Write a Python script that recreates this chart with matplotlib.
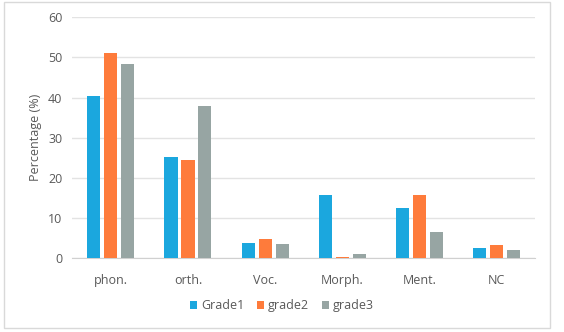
import numpy as np
import matplotlib
matplotlib.use("Agg")
import matplotlib.pyplot as plt
from matplotlib.patches import Rectangle

plt.rcParams['font.family'] = ['Open Sans', 'DejaVu Sans']

#### data
categories = ["phon.", "orth.", "Voc.", "Morph.", "Ment.", "NC"]
grade1 = [40.3, 25.1, 3.7, 15.7, 12.4, 2.5]
grade2 = [51.0, 24.5, 4.7, 0.3, 15.7, 3.4]
grade3 = [48.4, 37.9, 3.6, 1.0, 6.6, 2.0]
series_names = ["Grade1", "grade2", "grade3"]
colors = ["#1BA7DE", "#FE7B3B", "#97A5A3"]
text_col = "#595959"

fig = plt.figure(figsize=(5.64, 3.32), dpi=100)
ax = fig.add_axes([0.128, 0.222, 0.821, 0.726])

# outer frame like the excel chart area
fig.patches.append(Rectangle((0.007, 0.012), 0.968, 0.982, transform=fig.transFigure,
                             fill=False, edgecolor="#D9D9D9", linewidth=1.0))

x = np.arange(len(categories))
width = 0.17
step = 0.22
for i, (vals, name) in enumerate(zip([grade1, grade2, grade3], series_names)):
    ax.bar(x + (i - 1) * step, vals, width, color=colors[i], label=name, zorder=3)

ax.set_xlim(-0.5, len(categories) - 0.5)
ax.set_ylim(0, 60)
ax.set_yticks(range(0, 61, 10))
ax.set_xticks(x)
ax.set_xticklabels(categories)
ax.grid(axis="y", color="#E3E3E3", linewidth=1.0, zorder=0)
for s in ["top", "right", "left"]:
    ax.spines[s].set_visible(False)
ax.spines["bottom"].set_color("#D0D0D0")
ax.tick_params(length=0, colors=text_col, labelsize=9)
ax.tick_params(axis="x", pad=11)
ax.tick_params(axis="y", pad=7)
ax.set_ylabel("Percentage (%)", color=text_col, fontsize=9)
ax.yaxis.set_label_coords(-0.066, 0.5)

leg = fig.legend(loc="center", bbox_to_anchor=(0.5, 0.08), ncol=3, frameon=False,
                 fontsize=9, handlelength=0.6, handleheight=0.6, handletextpad=0.3,
                 columnspacing=1.0)
for t in leg.get_texts():
    t.set_color(text_col)

fig.savefig("out.png", dpi=100)
